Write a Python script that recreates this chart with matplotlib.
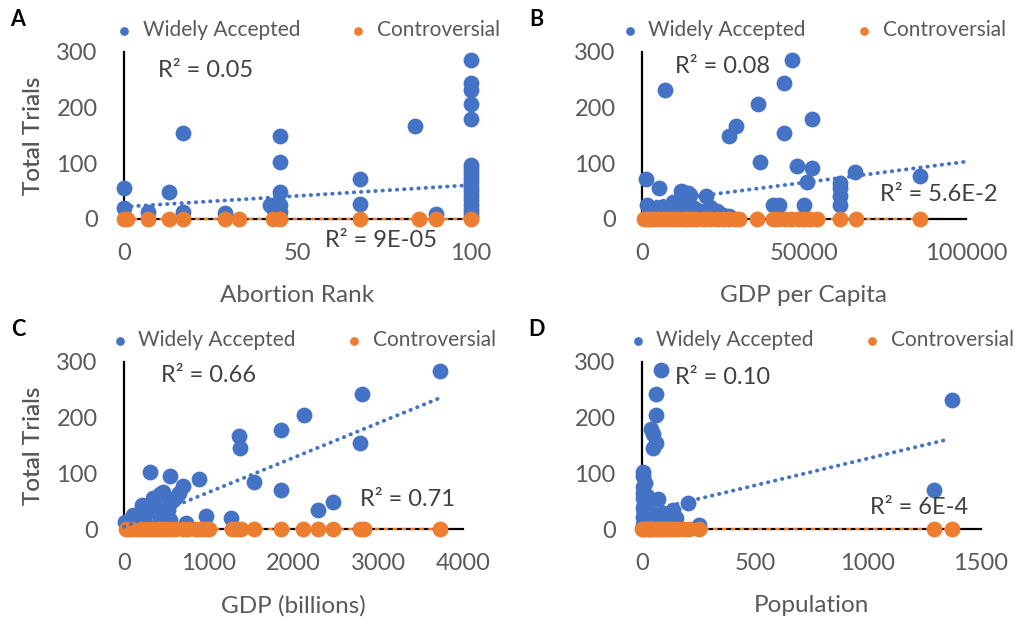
import numpy as np
import matplotlib.pyplot as plt

plt.rcParams['font.family'] = ['Lato', 'DejaVu Sans']

BLUE = '#4472C4'
ORANGE = '#ED7D31'
GRAY = '#595959'

# A: abortion rank
a_wa_x = [0, 0, 7, 13, 17, 17, 29, 42, 43, 45, 45, 45, 45, 45, 68, 68, 84, 90,
          100, 100, 100, 100, 100, 100, 100, 100, 100, 100, 100, 100, 100, 100, 100, 100, 100, 100]
a_wa_y = [55, 19, 12, 49, 155, 12, 10, 25, 20, 149, 102, 48, 25, 12, 71, 27, 167, 9,
          285, 244, 232, 206, 180, 97, 90, 82, 74, 66, 58, 50, 42, 34, 26, 18, 10, 4]
a_co_x = [0, 1, 7, 13, 17, 29, 33, 43, 45, 68, 85, 90, 100]
a_trend_x = [0, 100]
a_trend_y = [22, 61]

# B: GDP per capita
b_wa_x = [1300, 5100, 7000, 12100, 12700, 14200, 14800, 19800, 1500, 3000, 4500, 6000,
          8000, 9500, 11000, 12500, 14000, 16000, 18000, 21000, 23000, 25000, 27000, 2000,
          27000, 29100, 35800, 36300, 40400, 42400, 43700, 43700, 46400, 47900, 50000,
          51000, 52400, 52400, 61200, 61200, 61200, 61200, 65800, 85900]
b_wa_y = [72, 55, 232, 51, 49, 46, 43, 41, 25, 20, 15, 22,
          12, 30, 18, 32, 25, 20, 14, 22, 15, 8, 5, 8,
          149, 167, 206, 102, 25, 25, 244, 155, 285, 96, 26,
          66, 179, 91, 64, 55, 42, 25, 85, 78]
b_co_x = [500, 1500, 2500, 3500, 5000, 6500, 8000, 9500, 11000, 12500, 14000, 15500,
          17000, 19000, 21000, 23000, 25000, 27000, 29000, 30000, 35400, 40400, 42000,
          44000, 46000, 48000, 50000, 52000, 54000, 61100, 66000, 85800]
b_trend_x = [0, 100000]
b_trend_y = [28, 103]

# C: GDP (billions)
c_wa_x = [3729, 2808, 2788, 2122, 1847, 1353, 1365, 1529, 1855, 2294, 2463, 882, 973,
          1267, 737, 306, 541, 698, 463, 424, 345, 208, 541, 110, 286, 463, 541, 188,
          424, 12, 60, 250, 380, 600, 650, 520]
c_wa_y = [283, 243, 155, 204, 178, 167, 146, 84, 70, 35, 48, 90, 24,
          20, 10, 102, 96, 78, 67, 62, 55, 43, 46, 25, 31, 28, 16, 19,
          16, 13, 8, 10, 40, 55, 65, 35]
c_co_x = [20, 60, 100, 150, 200, 250, 300, 350, 400, 450, 500, 550, 600, 700, 750,
          850, 900, 950, 1000, 1280, 1330, 1380, 1530, 1850, 2110, 2290, 2470, 2790,
          2830, 3730]
c_trend_x = [0, 3705]
c_trend_y = [4, 234]

# D: population
d_wa_x = [86, 64, 60, 42, 49, 64, 49, 1371, 1292, 205, 250, 138, 4, 13, 71, 95, 58, 112,
          5, 6, 3, 5, 8, 4, 7, 3, 9, 5, 12, 20, 25, 30, 40, 80, 150]
d_wa_y = [285, 243, 204, 180, 170, 155, 146, 232, 70, 47, 7, 34, 102, 82, 53, 28, 22, 16,
          95, 75, 65, 55, 45, 38, 30, 22, 15, 8, 4, 60, 35, 12, 20, 10, 20]
d_co_x = [2, 10, 20, 30, 40, 50, 65, 80, 95, 110, 125, 140, 160, 185, 207, 251, 1292, 1371]
d_trend_x = [0, 1344]
d_trend_y = [30, 160]

panels = [
    dict(letter='A', xlabel='Abortion Rank', wa=(a_wa_x, a_wa_y), co=a_co_x,
         trend=(a_trend_x, a_trend_y), xlim=(0, 100), xticks=[0, 50, 100],
         r2=('R² = 0.05', 'R² = 9E-05'), r2pos=((0.098, 0.892), (0.579, -0.126)),
         rect=(124, 219, 347)),
    dict(letter='B', xlabel='GDP per Capita', wa=(b_wa_x, b_wa_y), co=b_co_x,
         trend=(b_trend_x, b_trend_y), xlim=(0, 100000), xticks=[0, 50000, 100000],
         r2=('R² = 0.08', 'R² = 5.6E-2'), r2pos=((0.102, 0.916), (0.735, 0.144)),
         rect=(642, 219, 324)),
    dict(letter='C', xlabel='GDP (billions)', wa=(c_wa_x, c_wa_y), co=c_co_x,
         trend=(c_trend_x, c_trend_y), xlim=(0, 4000), xticks=[0, 1000, 2000, 3000, 4000],
         r2=('R² = 0.66', 'R² = 0.71'), r2pos=((0.109, 0.922), (0.696, 0.174)),
         rect=(124, 529, 339)),
    dict(letter='D', xlabel='Population', wa=(d_wa_x, d_wa_y), co=d_co_x,
         trend=(d_trend_x, d_trend_y), xlim=(0, 1500), xticks=[0, 500, 1000, 1500],
         r2=('R² = 0.10', 'R² = 6E-4'), r2pos=((0.097, 0.91), (0.673, 0.126)),
         rect=(642, 529, 339)),
]

W, H = 1023, 623
fig = plt.figure(figsize=(W / 100, H / 100), dpi=100)

for p in panels:
    left, base, width = p['rect']
    ax = fig.add_axes([left / W, 1 - base / H, width / W, 167 / H])
    wx, wy = p['wa']
    cx = np.array(p['co'])
    cy = np.zeros(len(cx))

    ax.scatter(wx, wy, s=130, color=BLUE, label='Widely Accepted', zorder=3,
               clip_on=False, linewidths=0)
    ax.scatter(cx, cy, s=130, color=ORANGE, label='Controversial', zorder=4,
               clip_on=False, linewidths=0)

    tx, ty = p['trend']
    ax.plot(tx, ty, color=BLUE, lw=2.8, linestyle=(0, (0.1, 1.75)),
            dash_capstyle='round', zorder=5, clip_on=False)
    # linear fit of the controversial series (all zero)
    k, b0 = np.polyfit(cx, cy, 1)
    fx = np.array([cx.min(), cx.max()])
    ax.plot(fx, k * fx + b0, color=ORANGE, lw=1.6, linestyle=(0, (2, 2)),
            zorder=5, clip_on=False)

    ax.set_xlim(*p['xlim'])
    ax.set_ylim(0, 300)
    ax.set_xticks(p['xticks'])
    ax.set_yticks([0, 100, 200, 300])
    ax.tick_params(length=0, labelsize=17, labelcolor=GRAY)
    ax.tick_params(axis='x', pad=17)
    ax.tick_params(axis='y', pad=19)
    for side in ('top', 'right'):
        ax.spines[side].set_visible(False)
    for side in ('left', 'bottom'):
        ax.spines[side].set_color('black')
        ax.spines[side].set_linewidth(1.6)
        ax.spines[side].set_zorder(2)

    ax.set_xlabel(p['xlabel'], fontsize=17.5, color=GRAY)
    ax.xaxis.set_label_coords(0.5, -0.46)
    ax.xaxis.label.set_va('center')
    ax.set_ylabel('Total Trials', fontsize=17.5, color=GRAY)
    ax.yaxis.set_label_coords((33 - left) / width, 0.5)
    ax.yaxis.label.set_va('center')

    for txt, (px, py) in zip(p['r2'], p['r2pos']):
        ax.text(px, py, txt, transform=ax.transAxes, fontsize=17, color='#404040',
                ha='left', va='center')

    ax.legend(loc='center', bbox_to_anchor=(0.53, 1.13), ncol=2, frameon=False,
              markerscale=0.55, handletextpad=0.5, handlelength=0.8,
              columnspacing=2.4, fontsize=15, labelcolor=GRAY, borderaxespad=0)

    fig.text((left - 106) / W, 1 - (base - 199) / H, p['letter'], fontsize=15.5,
             fontweight='bold', color='black', ha='center', va='center')

fig.savefig('out.png', dpi=100)
